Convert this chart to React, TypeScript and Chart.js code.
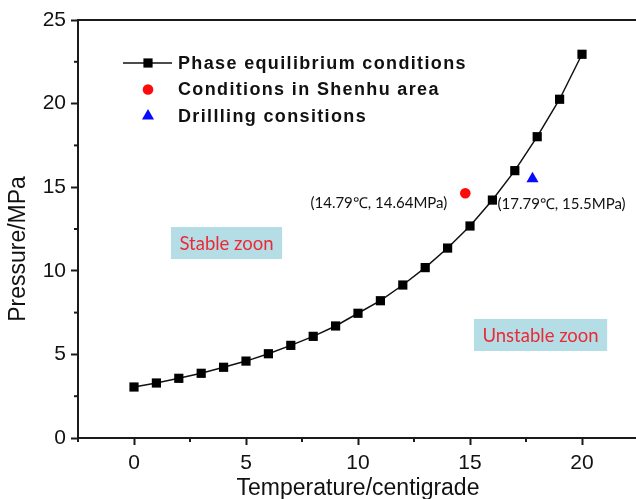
import React, { useEffect, useRef } from 'react';
import { Chart, registerables } from 'chart.js';

Chart.register(...registerables);

// ---- data ----
const temperatures = [0, 1, 2, 3, 4, 5, 6, 7, 8, 9, 10, 11, 12, 13, 14, 15, 16, 17, 18, 19, 20];
const pressures = [3.05, 3.29, 3.57, 3.87, 4.23, 4.6, 5.04, 5.54, 6.08, 6.7, 7.46, 8.21, 9.15, 10.19, 11.36, 12.68, 14.23, 15.99, 18.02, 20.26, 22.95];
const shenhuTemp = [14.79];
const shenhuPressure = [14.64];
const drillTemp = [17.79];
const drillPressure = [15.5];

const seriesNames = ['Phase equilibrium conditions', 'Conditions in Shenhu area', 'Drillling consitions'];
const shenhuLabel = '(14.79\u2103, 14.64MPa)';
const drillLabel = '(17.79\u2103, 15.5MPa)';
const zoneLabels = ['Stable zoon', 'Unstable zoon'];
const zoneTemps = [4.13, 18.15];
const zonePressures = [11.66, 6.16];

const xTitle = 'Temperature/centigrade';
const yTitle = 'Pressure/MPa';

const AXIS = '#1a1a1a';
const SANS = '"Liberation Sans", Arial, sans-serif';
const isMajor = (v: number) => Math.abs(v % 5) < 1e-6;

function markerPath(ctx: CanvasRenderingContext2D, style: string, r: number, x: number, y: number) {
  ctx.beginPath();
  if (style === 'rect') {
    const s = Math.SQRT1_2 * r;
    ctx.rect(x - s, y - s, 2 * s, 2 * s);
  } else if (style === 'triangle') {
    for (let k = 0; k < 3; k++) {
      const a = (k * 2 * Math.PI) / 3;
      const px = x + Math.sin(a) * r;
      const py = y - Math.cos(a) * r;
      if (k === 0) ctx.moveTo(px, py); else ctx.lineTo(px, py);
    }
    ctx.closePath();
  } else {
    ctx.arc(x, y, r, 0, Math.PI * 2);
  }
}

const frameAndExtras = {
  id: 'frameAndExtras',
  beforeDatasetsDraw(chart: any) {
    const { ctx } = chart;
    const xs = chart.scales.x;
    const ys = chart.scales.y;
    ctx.save();
    ctx.font = '18.5px Lato, "Open Sans", sans-serif';
    ctx.textAlign = 'center';
    ctx.textBaseline = 'middle';
    zoneLabels.forEach((lab, i) => {
      const cx = xs.getPixelForValue(zoneTemps[i]);
      const cy = ys.getPixelForValue(zonePressures[i]);
      const w = ctx.measureText(lab).width + 17;
      const h = 32;
      ctx.fillStyle = '#b5dde6';
      ctx.fillRect(cx - w / 2, cy - h / 2, w, h);
      ctx.fillStyle = '#ec2a35';
      ctx.fillText(lab, cx, cy + 1);
    });
    ctx.restore();
  },
  afterDraw(chart: any) {
    const { ctx, chartArea } = chart;
    const xs = chart.scales.x;
    const ys = chart.scales.y;
    ctx.save();
    // top frame line
    ctx.strokeStyle = AXIS;
    ctx.lineWidth = 2;
    ctx.beginPath();
    ctx.moveTo(chartArea.left - 1, chartArea.top);
    ctx.lineTo(chartArea.right + 1, chartArea.top);
    ctx.stroke();
    // minor ticks
    xs.ticks.forEach((t: any) => {
      if (!isMajor(t.value)) {
        const px = xs.getPixelForValue(t.value);
        ctx.beginPath();
        ctx.moveTo(px, chartArea.bottom);
        ctx.lineTo(px, chartArea.bottom + 4);
        ctx.stroke();
      }
    });
    ys.ticks.forEach((t: any) => {
      if (!isMajor(t.value)) {
        const py = ys.getPixelForValue(t.value);
        ctx.beginPath();
        ctx.moveTo(chartArea.left, py);
        ctx.lineTo(chartArea.left - 4, py);
        ctx.stroke();
      }
    });

    // y axis title (slightly below centre, as in the source figure)
    ctx.save();
    ctx.translate(19, (chartArea.top + chartArea.bottom) / 2 + 20);
    ctx.rotate(-Math.PI / 2);
    ctx.fillStyle = '#111';
    ctx.font = '23px ' + SANS;
    ctx.textAlign = 'center';
    ctx.textBaseline = 'middle';
    ctx.fillText(yTitle, 0, 0);
    ctx.restore();

    // point annotations
    ctx.fillStyle = '#111';
    ctx.font = '15px Lato, "Open Sans", sans-serif';
    ctx.textBaseline = 'middle';
    const sx = xs.getPixelForValue(shenhuTemp[0]);
    const sy = ys.getPixelForValue(shenhuPressure[0]);
    ctx.textAlign = 'right';
    ctx.fillText(shenhuLabel, sx - 18, sy + 10);
    const dx = xs.getPixelForValue(drillTemp[0]);
    const dy = ys.getPixelForValue(drillPressure[0]);
    ctx.textAlign = 'left';
    ctx.fillText(drillLabel, dx - 35, dy + 25);

    // legend
    const lx = chartArea.left + 45;
    const ly = chartArea.top + 43;
    const gap = 26.5;
    const dsets = chart.data.datasets;
    ctx.font = 'bold 18px ' + SANS;
    (ctx as any).letterSpacing = '1.35px';
    ctx.textAlign = 'left';
    ctx.textBaseline = 'middle';
    dsets.forEach((ds: any, i: number) => {
      const y = ly + i * gap;
      const mx = lx + 25;
      if (ds.showLine !== false) {
        ctx.strokeStyle = ds.borderColor;
        ctx.lineWidth = ds.borderWidth;
        ctx.beginPath();
        ctx.moveTo(lx, y);
        ctx.lineTo(lx + 49, y);
        ctx.stroke();
      }
      markerPath(ctx, ds.pointStyle, ds.pointRadius, mx, y);
      ctx.fillStyle = ds.pointBackgroundColor;
      ctx.fill();
      ctx.fillStyle = '#111';
      ctx.fillText(ds.label, lx + 55, y + 1);
    });
    (ctx as any).letterSpacing = '0px';
    ctx.restore();
  },
};

export default function App() {
  const ref = useRef<HTMLCanvasElement>(null);
  useEffect(() => {
    if (!ref.current) return;
    const chart = new Chart(ref.current, {
      type: 'scatter',
      data: {
        datasets: [
          {
            label: seriesNames[0],
            data: temperatures.map((t, i) => ({ x: t, y: pressures[i] })),
            showLine: true,
            borderColor: '#111',
            borderWidth: 1.5,
            pointStyle: 'rect',
            pointRadius: 6.5,
            pointBackgroundColor: '#000',
            pointBorderWidth: 0,
            tension: 0,
          },
          {
            label: seriesNames[1],
            data: shenhuTemp.map((t, i) => ({ x: t, y: shenhuPressure[i] })),
            showLine: false,
            pointStyle: 'circle',
            pointRadius: 5.3,
            pointBackgroundColor: '#ff0a0a',
            pointBorderWidth: 0,
            borderColor: '#ff0a0a',
          },
          {
            label: seriesNames[2],
            data: drillTemp.map((t, i) => ({ x: t, y: drillPressure[i] })),
            showLine: false,
            pointStyle: 'triangle',
            pointRadius: 7,
            pointBackgroundColor: '#0a0aff',
            pointBorderWidth: 0,
            borderColor: '#0a0aff',
          },
        ],
      },
      options: {
        responsive: false,
        animation: false,
        events: [],
        layout: { padding: { left: 0, top: 20, right: 4, bottom: 0 } },
        plugins: { legend: { display: false }, tooltip: { enabled: false } },
        scales: {
          x: {
            type: 'linear',
            min: -2.5,
            max: 22.5,
            afterFit: (s: any) => { s.height = 61; },
            border: { display: true, color: AXIS, width: 2 },
            grid: {
              drawOnChartArea: false,
              drawTicks: true,
              tickLength: 7,
              tickWidth: 2,
              tickColor: (c: any) => (c.tick && isMajor(c.tick.value) ? AXIS : 'rgba(0,0,0,0)'),
            },
            ticks: {
              stepSize: 2.5,
              autoSkip: false,
              maxRotation: 0,
              padding: 6,
              color: '#111',
              font: { size: 21, family: SANS },
              callback: (v: any) => (isMajor(Number(v)) ? String(v) : ''),
            },
            title: {
              display: true,
              text: xTitle,
              color: '#111',
              font: { size: 23, lineHeight: 1, family: SANS },
              padding: { top: 0, bottom: -1.5 },
            },
          },
          y: {
            type: 'linear',
            min: 0,
            max: 25,
            afterFit: (s: any) => { s.width = 78; },
            border: { display: true, color: AXIS, width: 2 },
            grid: {
              drawOnChartArea: false,
              drawTicks: true,
              tickLength: 7,
              tickWidth: 2,
              tickColor: (c: any) => (c.tick && isMajor(c.tick.value) ? AXIS : 'rgba(0,0,0,0)'),
            },
            ticks: {
              stepSize: 2.5,
              autoSkip: false,
              padding: 5,
              color: '#111',
              font: { size: 21, family: SANS },
              callback: (v: any) => (isMajor(Number(v)) ? String(v) : ''),
            },
            title: { display: false, text: yTitle },
          },
        },
      },
      plugins: [frameAndExtras],
    });
    return () => chart.destroy();
  }, []);

  return (
    <div style={{ position: 'absolute', left: 0, top: 0, width: 636, height: 499, overflow: 'hidden', background: '#fff' }}>
      <canvas ref={ref} width={645} height={499} style={{ display: 'block', width: 645, height: 499 }} />
    </div>
  );
}
